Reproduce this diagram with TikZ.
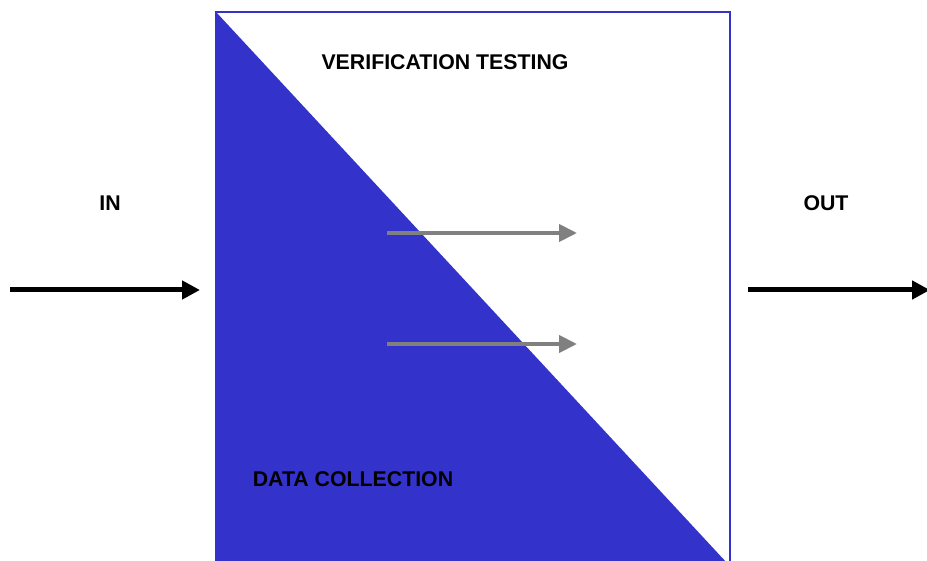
\documentclass[tikz,border=0pt]{standalone}
\usepackage{fontspec}
\setmainfont{Liberation Sans}
\usetikzlibrary{arrows.meta}
\definecolor{panelblue}{HTML}{3333CC}
\definecolor{flowgray}{HTML}{808080}
\tikzset{
	label text/.style={font=\fontsize{21.3}{25}\selectfont\bfseries, inner sep=0pt},
	main arrow/.style={line width=5, -{Triangle[length=18, width=18]}},
	flow arrow/.style={flowgray, line width=4, -{Triangle[length=18, width=17]}}
}

\begin{document}
\begin{tikzpicture}[x=1pt, y=-1pt]
		%%%%% START %%%%%
		\useasboundingbox (0, 0) rectangle (927, 561);
		
		\fill[panelblue] (216, 12) -- (216, 563) -- (727, 563) -- cycle;
		\draw[panelblue, line width=2] (216, 12) rectangle (730, 565);
		
		\node[label text] (verify) at (445, 62) {VERIFICATION TESTING};
		\node[label text] (collect) at (353, 479) {DATA COLLECTION};
		\node[label text] (in) at (110, 203) {IN};
		\node[label text] (out) at (826, 203) {OUT};
		
		\coordinate (in start) at (10, 290);
		\coordinate (in end) at (200, 290);
		\coordinate (out start) at (748, 290);
		\coordinate (out end) at (930, 290);
		\draw[main arrow] (in start) -- (in end);
		\draw[main arrow] (out start) -- (out end);
		
		\coordinate (upper start) at (387, 233);
		\coordinate (upper end) at (577, 233);
		\coordinate (lower start) at (387, 344);
		\coordinate (lower end) at (577, 344);
		\draw[flow arrow] (upper start) -- (upper end);
		\draw[flow arrow] (lower start) -- (lower end);
		%%%%% END %%%%%
	\end{tikzpicture}
\end{document}
